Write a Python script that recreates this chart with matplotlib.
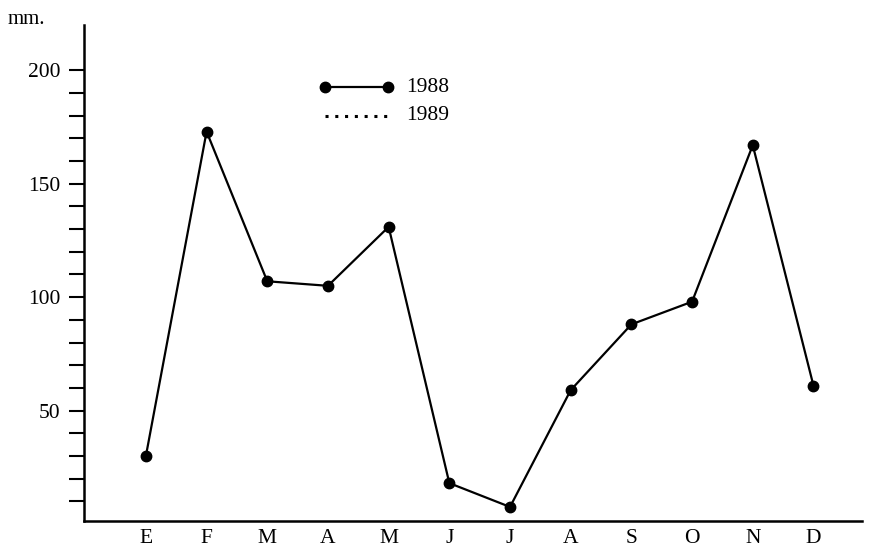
import matplotlib.pyplot as plt
import numpy as np

months = ['E', 'F', 'M', 'A', 'M', 'J', 'J', 'A', 'S', 'O', 'N', 'D']
rain_1988 = [30, 173, 107, 105, 131, 18, 7.5, 59, 88, 98, 167, 61]
rain_1989 = []  # en la leyenda, sin datos dibujados

plt.rcParams['font.family'] = ['Liberation Serif', 'DejaVu Serif']

fig = plt.figure(figsize=(8.71, 5.52), dpi=100)
ax = fig.add_axes([84 / 871, 31 / 552, 778 / 871, 496 / 552])

x = np.arange(len(months))
ax.plot(x, rain_1988, color='black', lw=1.6, marker='o', ms=7.5)

ax.set_xlim(-1.02, 11.8)
ax.set_ylim(1.3, 220)

ax.spines['top'].set_visible(False)
ax.spines['right'].set_visible(False)
ax.spines['left'].set_linewidth(1.8)
ax.spines['bottom'].set_linewidth(1.8)

ax.set_yticks([50, 100, 150, 200])
ax.set_yticks(np.arange(10, 201, 10), minor=True)
ax.tick_params(axis='y', which='both', direction='out', length=11, width=1.5,
               labelsize=15.5, pad=6)
ax.set_xticks(x)
ax.set_xticklabels(months, fontsize=15.5)
ax.tick_params(axis='x', length=0, pad=6)

fig.text(8 / 871, 1 - 20 / 552, 'mm.', fontsize=15, va='center', ha='left')

# leyenda dibujada a mano
lx0 = (325 - 84) / 778
lx1 = (388 - 84) / 778
ly1 = (527 - 93) / 496
ly2 = (527 - 122) / 496
ax.plot([lx0, lx1], [ly1, ly1], transform=ax.transAxes, color='black',
        lw=1.6, marker='o', ms=7.5, clip_on=False)
ax.plot([lx0, lx1], [ly2, ly2], transform=ax.transAxes, color='black',
        lw=2.2, ls=(0, (1, 2.2)), clip_on=False)
ax.text((406 - 84) / 778, ly1, '1988', transform=ax.transAxes, fontsize=15.5,
        va='center')
ax.text((406 - 84) / 778, ly2, '1989', transform=ax.transAxes, fontsize=15.5,
        va='center')

fig.savefig('out.png', dpi=100)
